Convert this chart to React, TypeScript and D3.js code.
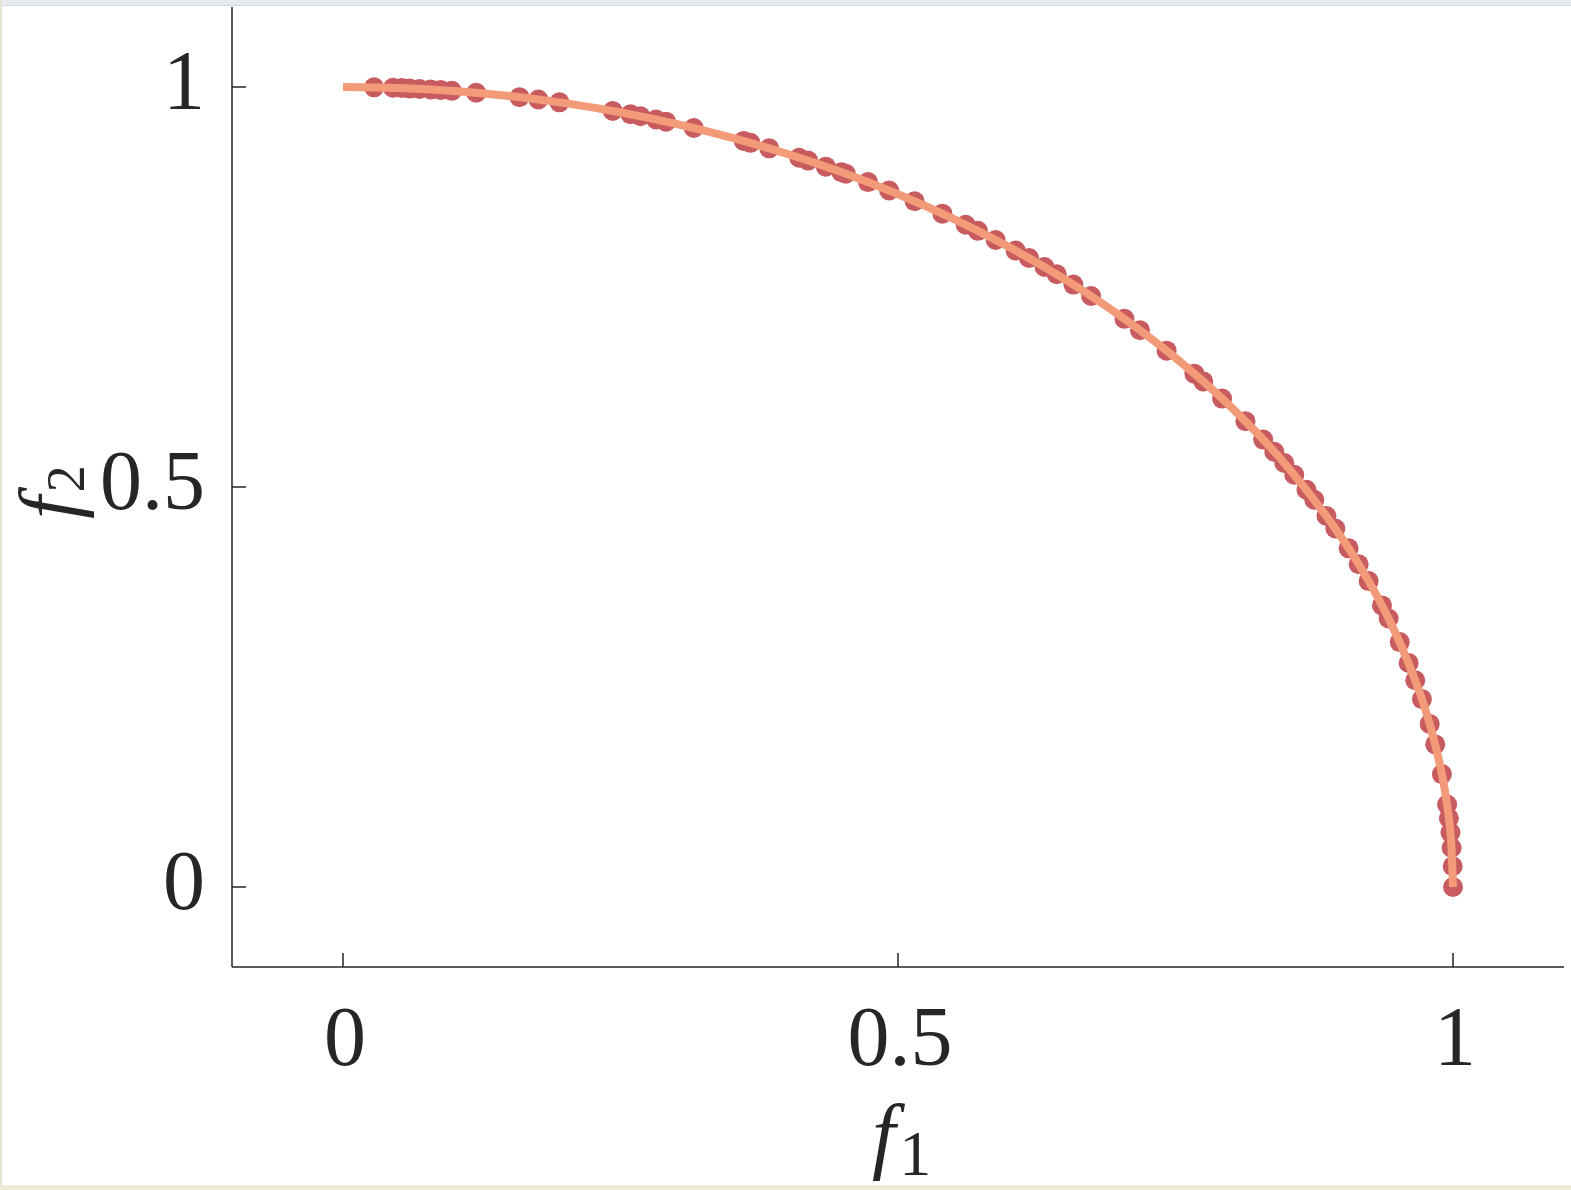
import React from "react"
import * as d3 from "d3"

// obtained solutions
const solF1 = [
  0.028, 0.045, 0.053, 0.06, 0.069, 0.079, 0.088, 0.098, 0.12, 0.159, 0.176, 0.195,
  0.243, 0.259, 0.268, 0.282, 0.291, 0.316, 0.361, 0.367, 0.384, 0.411, 0.419, 0.435,
  0.449, 0.453, 0.473, 0.492, 0.515, 0.54, 0.561, 0.572, 0.588, 0.606, 0.618, 0.632,
  0.643, 0.658, 0.674, 0.704, 0.718, 0.742, 0.767, 0.775, 0.792, 0.813, 0.829, 0.839,
  0.848, 0.857, 0.868, 0.875, 0.886, 0.894, 0.906, 0.915, 0.924, 0.936, 0.942, 0.952,
  0.96, 0.966, 0.972, 0.979, 0.984, 0.99, 0.9947, 0.9963, 0.9977, 0.9988, 0.9997, 1.0,
]
const solF2 = [
  0.9996, 0.999, 0.9986, 0.998, 0.9976, 0.9969, 0.9961, 0.9952, 0.9928, 0.9873, 0.9844, 0.9808,
  0.97, 0.9659, 0.9634, 0.9594, 0.9567, 0.9488, 0.9326, 0.9302, 0.9233, 0.9116, 0.908, 0.9004,
  0.8935, 0.8915, 0.8811, 0.8706, 0.8572, 0.8417, 0.8278, 0.8202, 0.8088, 0.7955, 0.7862, 0.775,
  0.7659, 0.753, 0.7387, 0.7102, 0.696, 0.6704, 0.6417, 0.632, 0.6105, 0.5823, 0.5593, 0.5441,
  0.53, 0.5153, 0.4966, 0.4841, 0.4637, 0.4481, 0.4233, 0.4035, 0.3824, 0.352, 0.3356, 0.3061,
  0.28, 0.2585, 0.2349, 0.2039, 0.1782, 0.1411, 0.103, 0.086, 0.068, 0.049, 0.026, 0.0,
]

// true pareto front
const frontF1 = [
  0, 0.05, 0.1, 0.15, 0.2, 0.25, 0.3, 0.35, 0.4, 0.45, 0.5, 0.55, 0.6, 0.65, 0.7,
  0.75, 0.8, 0.85, 0.9, 0.93, 0.95, 0.97, 0.98, 0.99, 0.995, 0.998, 1,
]
const frontF2 = [
  1, 0.9987, 0.995, 0.9887, 0.9798, 0.9682, 0.9539, 0.9367, 0.9165, 0.893, 0.866, 0.8352,
  0.8, 0.7599, 0.7141, 0.6614, 0.6, 0.5268, 0.4359, 0.3676, 0.3122, 0.2431, 0.199, 0.1411,
  0.0999, 0.0632, 0,
]

const xTicks = [0, 0.5, 1]
const yTicks = [0, 0.5, 1]
const tickText = ["0", "0.5", "1"]

const W = 1571
const H = 1190
const axisColor = "#262626"
const font = "'Liberation Serif', 'DejaVu Serif', serif"

export default function App() {
  const x = d3.scaleLinear().domain([-0.1, 1.1]).range([232, 1564])
  const y = d3.scaleLinear().domain([-0.1, 1.1]).range([967, 7])

  const front = frontF1.map((f, i) => [f, frontF2[i]] as [number, number])
  const line = d3
    .line<[number, number]>()
    .x(d => x(d[0]))
    .y(d => y(d[1]))
    .curve(d3.curveCatmullRom)

  return (
    <svg
      width={W}
      height={H}
      style={{ position: "absolute", left: 0, top: 0, background: "#fff" }}
    >
      {/* window frame */}
      <rect x={0} y={0} width={W} height={6} fill="#e8ebee" />
      <rect x={0} y={5} width={W} height={1} fill="#d6d9dc" />
      <rect x={0} y={0} width={2} height={H} fill="#e3e3cf" />
      <rect x={0} y={1185} width={W} height={5} fill="#ecebd7" />

      {/* axes */}
      <line x1={232} x2={232} y1={y(1.1)} y2={y(-0.1)} stroke={axisColor} strokeWidth={1.5} />
      <line x1={232} x2={1564} y1={y(-0.1)} y2={y(-0.1)} stroke={axisColor} strokeWidth={1.5} />
      {xTicks.map((t, i) => (
        <g key={"x" + t}>
          <line x1={x(t)} x2={x(t)} y1={967} y2={953} stroke={axisColor} strokeWidth={1.5} />
          <text
            x={x(t) + 2}
            y={1065}
            textAnchor="middle"
            fontFamily={font}
            fontSize={84}
            fill={axisColor}
          >
            {tickText[i]}
          </text>
        </g>
      ))}
      {yTicks.map((t, i) => (
        <g key={"y" + t}>
          <line x1={232} x2={246} y1={y(t)} y2={y(t)} stroke={axisColor} strokeWidth={1.5} />
          <text
            x={205}
            y={y(t) + 22}
            textAnchor="end"
            fontFamily={font}
            fontSize={84}
            fill={axisColor}
          >
            {tickText[i]}
          </text>
        </g>
      ))}

      {/* axis labels */}
      <text x={872} y={1163} fontFamily={font} fontSize={84} fill={axisColor}>
        <tspan fontStyle="italic">f</tspan>
        <tspan dx={4} dy={12} fontSize={64}>1</tspan>
      </text>
      <text
        transform={`translate(76,${y(0.5) + 32}) rotate(-90)`}
        fontFamily={font}
        fontSize={82}
        fill={axisColor}
      >
        <tspan fontStyle="italic">f</tspan>
        <tspan dx={4} dy={8} fontSize={54}>2</tspan>
      </text>

      {/* obtained solutions */}
      {solF1.map((f, i) => (
        <circle key={i} cx={x(f)} cy={y(solF2[i])} r={10} fill="#c75b60" />
      ))}

      {/* true front */}
      <path d={line(front) ?? ""} fill="none" stroke="#f39a78" strokeWidth={8} />
    </svg>
  )
}
